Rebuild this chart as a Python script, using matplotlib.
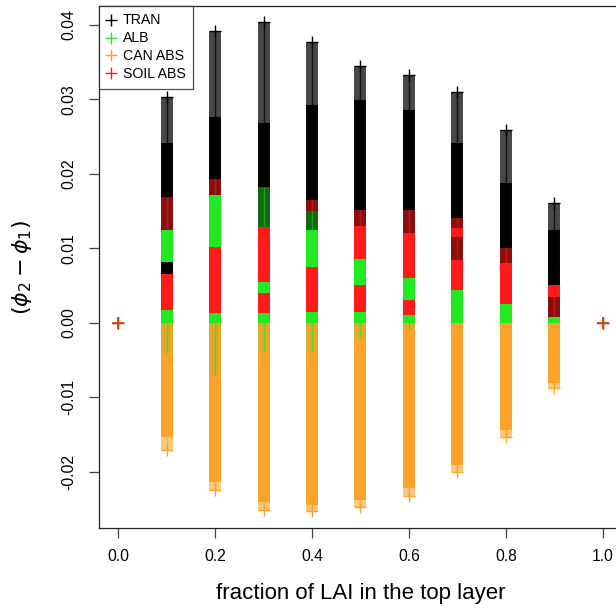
import matplotlib
matplotlib.use("Agg")
import matplotlib.pyplot as plt
from matplotlib.lines import Line2D

plt.rcParams["font.family"] = ["Liberation Sans", "DejaVu Sans"]
plt.rcParams["mathtext.fontset"] = "dejavusans"

# fraction of LAI in the top layer
frac = [0.0, 0.1, 0.2, 0.3, 0.4, 0.5, 0.6, 0.7, 0.8, 0.9, 1.0]

# TRAN: largest value, top of the densely filled part, smallest value
tran_max = [0.0, 0.0303, 0.0391, 0.0404, 0.0377, 0.0345, 0.0332, 0.0310, 0.0258, 0.0161, 0.0]
tran_dense = [0.0, 0.0241, 0.0276, 0.0268, 0.0292, 0.0299, 0.0285, 0.0241, 0.0187, 0.0124, 0.0]
tran_min = [0.0, 0.0, 0.0, 0.0, 0.0, 0.0, 0.0, 0.0, 0.0, 0.0, 0.0]

# CAN ABS: upper value, bottom of dense part, smallest value
can_max = [0.0, 0.0, 0.0, 0.0, 0.0, 0.0, 0.0, 0.0, 0.0, 0.0, 0.0]
can_dense = [0.0, -0.0153, -0.0214, -0.0241, -0.0245, -0.0238, -0.0222, -0.0191, -0.0144, -0.0081, 0.0]
can_min = [0.0, -0.0171, -0.0225, -0.0252, -0.0253, -0.0248, -0.0232, -0.0200, -0.0154, -0.0088, 0.0]

# ALB: value clusters per column; "over" clusters share their range with
# many TRAN points, "neg" clusters lie among CAN ABS points, "alone"
# clusters are where ALB dominates
alb_over = [[], [], [], [(0.0128, 0.0182)], [(0.0125, 0.0150)], [], [], [], [], [], []]
alb_neg = [[], [(-0.0041, 0.0)], [(-0.0070, 0.0)], [(-0.0040, 0.0)],
           [(-0.0040, 0.0)], [(-0.0020, 0.0)], [(-0.0010, 0.0)], [], [], [], []]
alb_alone = [[], [(0.0081, 0.0124), (0.0, 0.0017)], [(0.0102, 0.0171), (0.0, 0.0013)],
             [(0.0040, 0.0055), (0.0, 0.0013)], [(0.0075, 0.0125), (0.0, 0.0015)],
             [(0.0050, 0.0085), (0.0, 0.0015)], [(0.0030, 0.0060), (0.0, 0.0010)],
             [(0.0, 0.0044)], [(0.0, 0.0025)], [(0.0, 0.0008)], []]

# SOIL ABS: value clusters per column, same split
soil_over = [[], [(0.0125, 0.0169)], [(0.0171, 0.0193)], [], [(0.0150, 0.0165)],
             [(0.0130, 0.0151)], [(0.0120, 0.0151)], [(0.0084, 0.0115), (0.0127, 0.0140)],
             [(0.0080, 0.0100)], [(0.0008, 0.0035)], []]
soil_alone = [[], [(0.0017, 0.0066)], [(0.0013, 0.0102)], [(0.0055, 0.0128), (0.0013, 0.0040)],
              [(0.0015, 0.0075)], [(0.0085, 0.0130), (0.0015, 0.0050)],
              [(0.0060, 0.0120), (0.0010, 0.0030)], [(0.0044, 0.0084), (0.0115, 0.0127)],
              [(0.0025, 0.0080)], [(0.0035, 0.0051)], []]

series_names = ["TRAN", "ALB", "CAN ABS", "SOIL ABS"]
c_tran, c_alb, c_can, c_soil = "#000000", "#22EA22", "#FAA22A", "#FF1A1A"

W, H = 616, 609
fig = plt.figure(figsize=(W / 100, H / 100), dpi=100)
left, right, bottom, top = 98.7, 622.0, 528.3, 5.7
ax = fig.add_axes([left / W, (H - bottom) / H, (right - left) / W, (bottom - top) / H])

band_w = 8.6  # points, the width of one "+" symbol
ms = 8.6


def band(xs, lo, hi, color, alpha=1.0, z=2, arm_alpha=None):
    keep = [(x, a, b) for x, a, b in zip(xs, lo, hi) if b > a]
    if not keep:
        return
    xs, ls, hs = zip(*keep)
    ax.vlines(xs, ls, hs, colors=color, linewidth=band_w, alpha=alpha,
              capstyle="butt", zorder=z)
    # the vertical arm of the "+" symbols runs through each column
    ax.vlines(xs, ls, hs, colors=color, linewidth=1.0,
              alpha=alpha if arm_alpha is None else arm_alpha, zorder=z)


def clusters(groups, color, alpha, z, arm_alpha=None):
    xs, lo, hi = [], [], []
    for f, g in zip(frac, groups):
        for a, b in g:
            xs.append(f)
            lo.append(a)
            hi.append(b)
    band(xs, lo, hi, color, alpha, z, arm_alpha)


# TRAN
band(frac, tran_min, tran_dense, c_tran)
band(frac, tran_dense, tran_max, c_tran, alpha=0.72)
ax.plot(frac, tran_max, ls="none", marker="+", ms=ms, mew=1.0, color=c_tran, zorder=3)
# CAN ABS
band(frac, can_dense, can_max, c_can)
band(frac, can_min, can_dense, c_can, alpha=0.6)
ax.plot(frac, can_min, ls="none", marker="+", ms=ms, mew=1.0, color=c_can, zorder=3)
# SOIL ABS and ALB
clusters(soil_over, c_soil, 0.55, 3)
clusters(alb_over, c_alb, 0.45, 3)
clusters(alb_neg, c_alb, 0.1, 3, arm_alpha=0.7)
clusters(soil_alone, c_soil, 1.0, 3)
clusters(alb_alone, c_alb, 1.0, 3)

# the end points where all four differences are zero
for vals, col in ((tran_min, c_tran), (can_max, c_can), (tran_min, c_alb), (tran_min, c_soil)):
    ax.plot([frac[0], frac[-1]], [vals[0], vals[-1]], ls="none", marker="+",
            ms=ms, mew=1.3, color=col, alpha=0.8, zorder=4)

ax.set_xlim(-0.0405, 1.0399)
ax.set_ylim(-0.0276, 0.04255)
ax.set_xticks([0.0, 0.2, 0.4, 0.6, 0.8, 1.0])
ax.set_xticklabels(["0.0", "0.2", "0.4", "0.6", "0.8", "1.0"])
ax.set_yticks([-0.02, -0.01, 0.0, 0.01, 0.02, 0.03, 0.04])
ax.set_yticklabels(["-0.02", "-0.01", "0.00", "0.01", "0.02", "0.03", "0.04"])
for s in ax.spines.values():
    s.set_linewidth(0.9)
    s.set_color("#222222")
ax.tick_params(length=7.2, width=0.9, color="#444444", labelsize=11.3, direction="out")
ax.tick_params(axis="x", pad=8)
ax.tick_params(axis="y", pad=9)
for lab in ax.get_yticklabels():
    lab.set_rotation(90)
    lab.set_verticalalignment("center")
    lab.set_horizontalalignment("right")

ax.set_xlabel("fraction of LAI in the top layer", fontsize=16)
ax.xaxis.set_label_coords(0.5, (H - 594 - (H - bottom)) / (bottom - top))
ax.xaxis.label.set_verticalalignment("center")
ax.set_ylabel(r"$(\phi_2 - \phi_1)$", fontsize=16)
ax.yaxis.set_label_coords((22 - left) / (right - left), 0.5)
ax.yaxis.label.set_verticalalignment("center")

handles = [Line2D([], [], ls="none", marker="+", ms=9, mew=1.0, color=c)
           for c in (c_tran, c_alb, c_can, c_soil)]
leg = ax.legend(handles, series_names, loc="upper left", bbox_to_anchor=(0, 1),
                borderaxespad=0, frameon=True, fancybox=False, fontsize=10.2,
                handlelength=0.7, handletextpad=0.45, labelspacing=0.28,
                borderpad=0.55)
leg.get_frame().set_edgecolor("#222222")
leg.get_frame().set_linewidth(0.9)
leg.set_zorder(5)

fig.savefig("out.png", dpi=100)
